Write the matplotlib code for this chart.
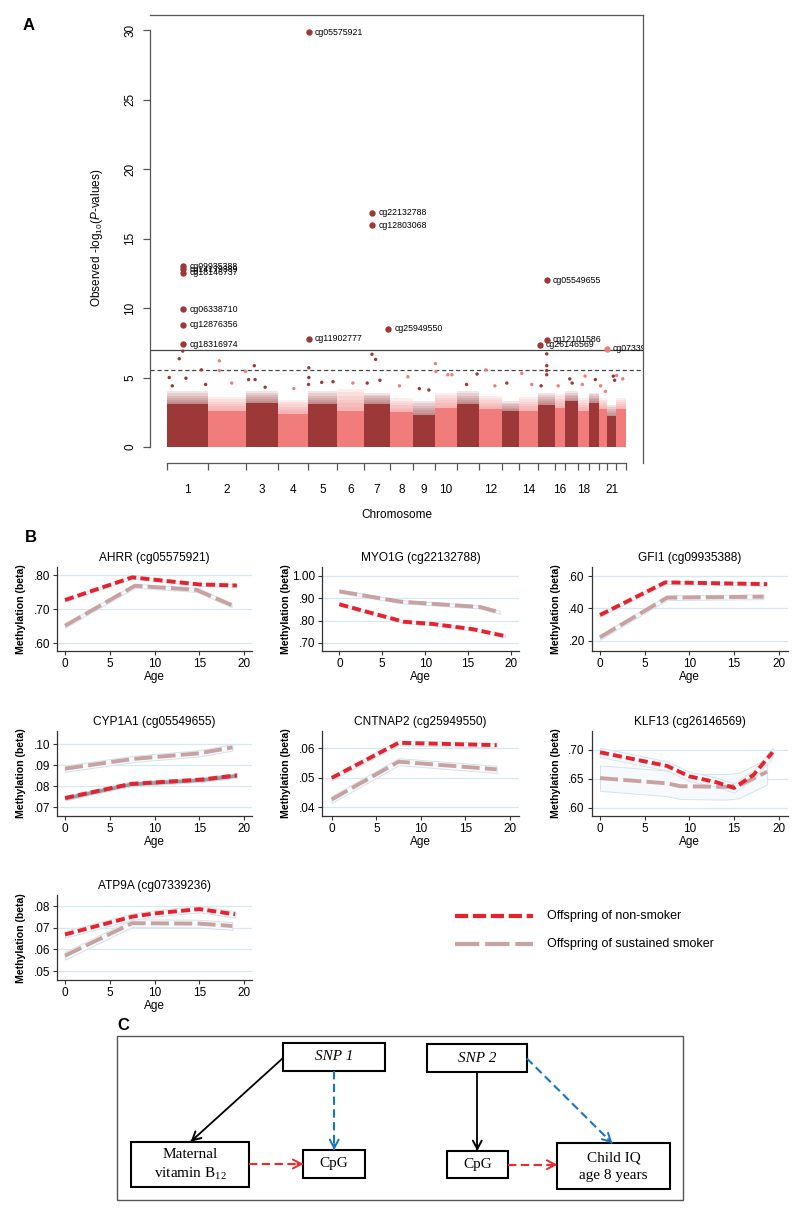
import numpy as np
import matplotlib
matplotlib.use('Agg')
import matplotlib.pyplot as plt
from matplotlib.patches import Rectangle

plt.rcParams['font.family'] = ['Liberation Sans', 'DejaVu Sans']
plt.rcParams['lines.scale_dashes'] = False
plt.rcParams['mathtext.fontset'] = 'custom'
plt.rcParams['mathtext.rm'] = 'Liberation Sans'
plt.rcParams['mathtext.it'] = 'Liberation Sans:italic'

W, H = 800, 1213

# ---------------- Panel A data (Manhattan) ----------------
chrom_len = [254, 240, 201, 189, 182, 170, 163, 145, 138, 139, 138,
             145, 107, 119, 107, 63, 79, 72, 63, 50, 57, 63]   # Mb
chrom_labels = ['1', '2', '3', '4', '5', '6', '7', '8', '9', '10', '12',
                '14', '16', '18', '21']
band_solid = [3.1, 2.6, 3.2, 2.4, 3.1, 2.6, 3.1, 2.5, 2.3, 2.8, 3.1,
              2.7, 2.6, 2.6, 3.0, 2.8, 3.3, 2.6, 3.2, 2.7, 2.2, 2.7]
band_fuzz = [4.0, 3.6, 4.0, 3.4, 4.0, 4.2, 3.9, 3.5, 3.3, 3.9, 4.0,
             3.7, 3.3, 3.6, 3.9, 3.8, 4.0, 3.5, 3.9, 3.5, 3.0, 3.5]

out_chr = [1, 1, 1, 1, 1, 1, 1, 2, 2, 2, 2, 3, 3, 3, 3, 4, 5, 5, 5, 5, 5,
           6, 7, 7, 7, 7, 8, 8, 9, 9, 10, 10, 10, 10, 11, 11, 12, 12, 13,
           14, 14, 15, 15, 15, 15, 15, 16, 17, 17, 18, 18, 19, 20, 20,
           21, 21, 22, 22]
out_pos = [74, 96, 116, 11, 30, 213, 240, 72, 72, 236, 150, 52, 16, 57,
           120, 100, 5, 5, 3, 86, 157, 100, 50, 73, 20, 100, 60, 113, 40,
           100, 3, 6, 81, 107, 126, 60, 44, 100, 30, 17, 80, 55, 55, 55,
           55, 20, 20, 30, 45, 47, 30, 40, 10, 40, 40, 48, 4, 42]
out_y = [6.35, 6.9, 4.95, 5.0, 4.4, 5.55, 4.5, 6.2, 5.5, 5.45, 4.6, 5.85,
         4.85, 4.85, 4.3, 4.2, 5.7, 5.0, 4.5, 4.65, 4.7, 4.6, 6.67, 6.3,
         4.6, 4.8, 4.4, 5.05, 4.2, 4.1, 6.0, 5.43, 5.2, 5.2, 5.25, 4.5,
         5.55, 4.4, 4.6, 5.3, 4.5, 6.7, 5.85, 5.5, 5.2, 4.4, 4.4, 4.9,
         4.6, 5.1, 4.5, 4.85, 4.4, 4.0, 5.1, 4.8, 5.15, 4.9]

hit_names = ['cg05575921', 'cg09935388', 'cg14179389', 'cg18146737',
             'cg06338710', 'cg12876356', 'cg18316974', 'cg11902777',
             'cg22132788', 'cg12803068', 'cg25949550', 'cg05549655',
             'cg12101586', 'cg26146569', 'cg07339236']
hit_chr = [5, 1, 1, 1, 1, 1, 1, 5, 7, 7, 7, 15, 15, 15, 20]
hit_pos = [5, 97, 97, 97, 97, 97, 97, 5, 50, 50, 151, 55, 55, 11, 49]
hit_y = [29.85, 13.0, 12.8, 12.55, 9.9, 8.8, 7.4, 7.8, 16.85, 15.95, 8.5,
         12.0, 7.7, 7.35, 7.07]

genome_wide = 7.0
suggestive = 5.56

# ---------------- Panel B data (methylation trajectories) ----------------
ages_tick = [0, 5, 10, 15, 20]

ahrr_age_non = [0, 7.5, 15, 19.2]
ahrr_non = [0.727, 0.794, 0.773, 0.770]
ahrr_age_smk = [0, 7.8, 14.7, 18.6]
ahrr_smk = [0.651, 0.769, 0.757, 0.712]

myo1g_age_non = [0, 7.5, 10.9, 15.5, 19.3]
myo1g_non = [0.873, 0.795, 0.785, 0.762, 0.731]
myo1g_age_smk = [0, 7.1, 16.4, 18.7]
myo1g_smk = [0.931, 0.885, 0.861, 0.837]

gfi1_age_non = [0, 7.3, 18.7]
gfi1_non = [0.359, 0.561, 0.550]
gfi1_age_smk = [0, 7.5, 18.3]
gfi1_smk = [0.221, 0.466, 0.472]

cyp1a1_age_non = [0, 7.3, 15.3, 19.2]
cyp1a1_non = [0.0744, 0.0811, 0.0832, 0.0852]
cyp1a1_age_smk = [0, 7.6, 15, 18.7]
cyp1a1_smk = [0.0884, 0.0930, 0.0957, 0.0985]

cntnap2_age_non = [0, 7.5, 18.5]
cntnap2_non = [0.0500, 0.0619, 0.0611]
cntnap2_age_smk = [0, 7.5, 18.5]
cntnap2_smk = [0.0427, 0.0555, 0.0529]

klf13_age_non = [0, 7.5, 10, 13, 15, 17.2, 19.3]
klf13_non = [0.6955, 0.672, 0.654, 0.644, 0.634, 0.657, 0.6955]
klf13_age_smk = [0, 7.5, 9, 14, 15.5, 18.7]
klf13_smk = [0.651, 0.642, 0.637, 0.636, 0.638, 0.662]

atp9a_age_non = [0, 7.5, 10, 15, 19]
atp9a_non = [0.0669, 0.0751, 0.0766, 0.0786, 0.0762]
atp9a_age_smk = [0, 7.5, 15, 18.7]
atp9a_smk = [0.0571, 0.0721, 0.0719, 0.0708]

# confidence half-widths (non-smoker, sustained smoker)
ci_half = {'AHRR': (0.004, 0.006), 'MYO1G': (0.006, 0.007),
           'GFI1': (0.010, 0.015), 'CYP1A1': (0.0011, 0.0015),
           'CNTNAP2': (0.0008, 0.0012), 'KLF13': (0.008, 0.022),
           'ATP9A': (0.0015, 0.0018)}

DARK = '#9C3838'
LIGHT = '#F07C7C'
RED = '#E8212E'
PINK = '#C9A1A1'


def rect(l, t, r, b):
    return [l / W, 1 - b / H, (r - l) / W, (b - t) / H]


fig = plt.figure(figsize=(W / 100, H / 100), dpi=100)

# ---------------- Panel A ----------------
axA = fig.add_axes(rect(150, 15, 643, 463))
starts = np.concatenate([[0], np.cumsum(chrom_len)[:-1]])
total = float(np.sum(chrom_len))
n_fade = 6
for i in range(len(chrom_len)):
    col = DARK if i % 2 == 0 else LIGHT
    # soft, thinning top of the dense cloud of probes
    for k in range(n_fade):
        h = band_solid[i] + (band_fuzz[i] - band_solid[i]) * (k + 1) / n_fade
        axA.bar(starts[i], h, width=chrom_len[i], align='edge',
                color=col, alpha=0.13, lw=0)
    axA.bar(starts[i], band_solid[i], width=chrom_len[i], align='edge',
            color=col, lw=0)

ox = [starts[c - 1] + p for c, p in zip(out_chr, out_pos)]
ocol = [DARK if (c - 1) % 2 == 0 else LIGHT for c in out_chr]
axA.scatter(ox, out_y, s=6, c=ocol, lw=0, zorder=3)

for name, c, p, y in zip(hit_names, hit_chr, hit_pos, hit_y):
    x = starts[c - 1] + p
    col = DARK if (c - 1) % 2 == 0 else LIGHT
    axA.plot(x, y, 'o', ms=4.6, color=col, mec='none', zorder=4)
    axA.annotate(name, (x, y), xytext=(4.5, 0), textcoords='offset points',
                 fontsize=6.3, va='center', ha='left', annotation_clip=False,
                 clip_on=True)

axA.axhline(genome_wide, color='#444444', lw=0.9)
axA.axhline(suggestive, color='#444444', lw=0.9, dashes=(3, 2))

axA.set_xlim(-110, 2990.6)
axA.set_ylim(-1.151, 31.08)
for s in ['top', 'right', 'left', 'bottom']:
    axA.spines[s].set_color('#555555')
    axA.spines[s].set_linewidth(0.9)
axA.spines['left'].set_bounds(0, 30)
axA.spines['bottom'].set_bounds(0, total)

bounds = list(starts) + [total]
mids = starts + np.array(chrom_len) / 2.0
shown = [0, 1, 2, 3, 4, 5, 6, 7, 8, 9, 11, 13, 15, 17, 20]
axA.set_xticks(bounds)
axA.set_xticklabels([])
axA.set_xticks([mids[i] for i in shown], minor=True)
axA.set_xticklabels(chrom_labels, minor=True, fontsize=8.5)
axA.tick_params(axis='x', which='major', length=5, width=0.9,
                color='#555555')
axA.tick_params(axis='x', which='minor', length=0, pad=15)
axA.set_yticks([0, 5, 10, 15, 20, 25, 30])
axA.set_yticklabels(['0', '5', '10', '15', '20', '25', '30'], fontsize=8.5,
                    rotation=90, va='center')
axA.tick_params(axis='y', length=5, width=0.9, color='#555555', pad=5)

# ---------------- Panel B ----------------
rows = [(567, 651), (731, 815.7), (895, 980.4)]
cols = [(57, 252), (322, 519), (591.7, 787.7)]
panels = [
    ('AHRR', 'AHRR (cg05575921)', 0, 0, ahrr_age_non, ahrr_non,
     ahrr_age_smk, ahrr_smk, (-0.894, 20.89), (0.5764, 0.8245),
     [0.6, 0.7, 0.8], ['.60', '.70', '.80']),
    ('MYO1G', 'MYO1G (cg22132788)', 0, 1, myo1g_age_non, myo1g_non,
     myo1g_age_smk, myo1g_smk, (-2.02, 20.93), (0.664, 1.040),
     [0.7, 0.8, 0.9, 1.0], ['.70', '.80', '.90', '1.00']),
    ('GFI1', 'GFI1 (cg09935388)', 0, 2, gfi1_age_non, gfi1_non,
     gfi1_age_smk, gfi1_smk, (-0.93, 21.0), (0.136, 0.656),
     [0.2, 0.4, 0.6], ['.20', '.40', '.60']),
    ('CYP1A1', 'CYP1A1 (cg05549655)', 1, 0, cyp1a1_age_non, cyp1a1_non,
     cyp1a1_age_smk, cyp1a1_smk, (-0.894, 20.89), (0.066, 0.1063),
     [0.07, 0.08, 0.09, 0.10], ['.07', '.08', '.09', '.10']),
    ('CNTNAP2', 'CNTNAP2 (cg25949550)', 1, 1, cntnap2_age_non, cntnap2_non,
     cntnap2_age_smk, cntnap2_smk, (-1.09, 21.0), (0.0372, 0.0659),
     [0.04, 0.05, 0.06], ['.04', '.05', '.06']),
    ('KLF13', 'KLF13 (cg26146569)', 1, 2, klf13_age_non, klf13_non,
     klf13_age_smk, klf13_smk, (-0.93, 21.0), (0.5862, 0.7322),
     [0.60, 0.65, 0.70], ['.60', '.65', '.70']),
    ('ATP9A', 'ATP9A (cg07339236)', 2, 0, atp9a_age_non, atp9a_non,
     atp9a_age_smk, atp9a_smk, (-0.894, 20.89), (0.0457, 0.0851),
     [0.05, 0.06, 0.07, 0.08], ['.05', '.06', '.07', '.08']),
]

narrow = ['Liberation Sans Narrow', 'Liberation Sans', 'DejaVu Sans']
red_dash = (6.5, 3.0)
pink_dash = (13, 3.8)
b_labels = []
for key, title, r, c, an, vn, asm, vs, xl, yl, yt, ytl in panels:
    t, b = rows[r]
    l, rr = cols[c]
    ax = fig.add_axes(rect(l, t, rr, b))
    ci_n, ci_s = ci_half[key]
    band_n = '#959EA4' if key == 'CYP1A1' else '#F7FAFC'
    ax.fill_between(asm, np.array(vs) - ci_s, np.array(vs) + ci_s,
                    facecolor='#F7FAFC', edgecolor='#D3E4EC', lw=0.7, zorder=1)
    ax.fill_between(an, np.array(vn) - ci_n, np.array(vn) + ci_n,
                    facecolor=band_n, edgecolor='#D3E4EC', lw=0.7, zorder=1)
    ax.plot(asm, vs, color=PINK, lw=2.8, dashes=pink_dash, zorder=3)
    ax.plot(an, vn, color=RED, lw=2.8, dashes=red_dash, zorder=4)
    ax.set_xlim(*xl)
    ax.set_ylim(*yl)
    ax.set_xticks(ages_tick)
    ax.set_xticklabels([str(a) for a in ages_tick], family=narrow,
                       fontsize=8.5)
    ax.set_yticks(yt)
    ax.set_yticklabels(ytl, family=narrow, fontsize=8.5)
    ax.grid(axis='y', color='#D6E9F0', lw=0.9)
    ax.set_axisbelow(True)
    for s in ['top', 'right']:
        ax.spines[s].set_visible(False)
    for s in ['left', 'bottom']:
        ax.spines[s].set_color('#333333')
        ax.spines[s].set_linewidth(0.9)
    ax.tick_params(length=3, width=0.8, pad=2, color='#333333')
    b_labels.append((title, (l + rr) / 2.0, t - 9, b + 26, l, (t + b) / 2.0))

# ---------------- overlay for free text, legend and panel C ----------------
ov = fig.add_axes([0, 0, 1, 1])
ov.set_xlim(0, W)
ov.set_ylim(H, 0)
ov.axis('off')

ov.text(29, 25, 'A', fontsize=12, fontweight='bold', ha='center', va='center')
ov.text(31, 537, 'B', fontsize=12, fontweight='bold', ha='center',
        va='center')
ov.text(123, 1025, 'C', fontsize=12, fontweight='bold', ha='center',
        va='center')

ov.text(97, 238, r'Observed -log$_{\mathregular{10}}$($\it{P}$-values)',
        rotation=90, fontsize=8.5, ha='center', va='center')
ov.text(397, 515, 'Chromosome', fontsize=8.5, ha='center', va='center')

for title, cx, ty, agey, l, cy in b_labels:
    ov.text(cx, ty, title, family=narrow, fontsize=8.6, ha='center',
            va='center')
    ov.text(cx, agey, 'Age', family=narrow, fontsize=8.5, ha='center',
            va='center')
    ov.text(l - 36, cy, 'Methylation (beta)', family=narrow, fontsize=7.6,
            fontweight='bold', rotation=90, ha='center', va='center')

# legend
ov.plot([455, 533], [915.7, 915.7], color=RED, lw=3.0, dashes=(9.5, 3.4))
ov.plot([455, 533], [944.3, 944.3], color=PINK, lw=3.0, dashes=(17.5, 4.2))
ov.text(547, 915.7, 'Offspring of non-smoker', family=narrow, fontsize=9,
        ha='left', va='center')
ov.text(547, 944.3, 'Offspring of sustained smoker', family=narrow,
        fontsize=9, ha='left', va='center')

# panel C diagram
serif = ['Liberation Serif', 'DejaVu Serif']
ov.add_patch(Rectangle((117.3, 1035.7), 566, 164.3, fill=False,
                       edgecolor='#555555', lw=1.0))
boxes = [(283.3, 1043.3, 385, 1070.7), (426.7, 1044, 526.7, 1071.7),
         (130.7, 1141.7, 249, 1186.7), (303.3, 1150, 365, 1178.3),
         (446.7, 1151, 508.3, 1178.3), (557.3, 1143.3, 670, 1189)]
for l, t, r, b in boxes:
    ov.add_patch(Rectangle((l, t), r - l, b - t, fill=False,
                           edgecolor='black', lw=1.5))

ov.text(334.2, 1057, 'SNP 1', family=serif, style='italic', fontsize=11,
        ha='center', va='center')
ov.text(476.7, 1058, 'SNP 2', family=serif, style='italic', fontsize=11,
        ha='center', va='center')
ov.text(190, 1155, 'Maternal', family=serif, fontsize=11, ha='center',
        va='center')
ov.text(190, 1174, r'vitamin B$_{\mathregular{12}}$', family=serif,
        fontsize=11, ha='center', va='center')
ov.text(334.2, 1164, 'CpG', family=serif, fontsize=11, ha='center',
        va='center')
ov.text(477.5, 1164.7, 'CpG', family=serif, fontsize=11, ha='center',
        va='center')
ov.text(613.7, 1158.3, 'Child IQ', family=serif, fontsize=11, ha='center',
        va='center')
ov.text(613.7, 1176, 'age 8 years', family=serif, fontsize=11, ha='center',
        va='center')

BLUE = '#1B75BC'
CRED = '#EE2A2A'


def arrow(p0, p1, color, dashed):
    p0 = np.array(p0, float)
    p1 = np.array(p1, float)
    d = (p1 - p0) / np.linalg.norm(p1 - p0)
    if dashed:
        ov.plot([p0[0], p1[0]], [p0[1], p1[1]], color=color, lw=1.5,
                dashes=(6, 3.2))
    else:
        ov.plot([p0[0], p1[0]], [p0[1], p1[1]], color=color, lw=1.3)
    ov.annotate('', xy=tuple(p1), xytext=tuple(p1 - 6 * d),
                arrowprops=dict(arrowstyle='->,head_length=0.6,head_width=0.32',
                                color=color, lw=1.4, shrinkA=0, shrinkB=0))


arrow((282.7, 1058.3), (190.7, 1141.7), 'black', False)
arrow((334.2, 1070.7), (334.2, 1150), BLUE, True)
arrow((249, 1164), (303.3, 1164), CRED, True)
arrow((477.3, 1071.7), (477.3, 1151), 'black', False)
arrow((526.7, 1058.3), (612.3, 1143.3), BLUE, True)
arrow((508.3, 1164.7), (557.3, 1164.7), CRED, True)

fig.savefig('out.png', dpi=100)
